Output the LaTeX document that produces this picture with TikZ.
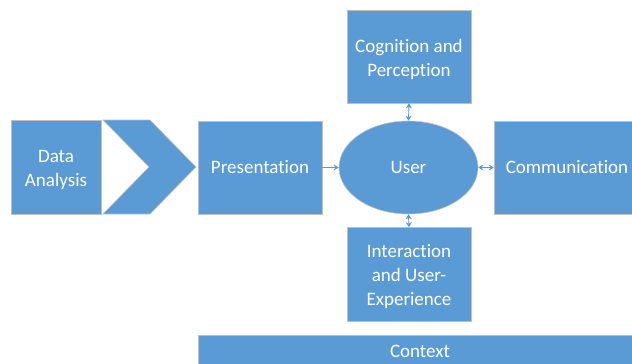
\documentclass[tikz,border=0pt]{standalone}
\usepackage{fontspec}
\setmainfont{Carlito}[Ligatures=NoCommon]
\usetikzlibrary{shapes.geometric,arrows.meta}
\definecolor{boxblue}{HTML}{5B9BD5}
\definecolor{boxedge}{HTML}{BFBFBF}
\tikzset{
  blockbox/.style={rectangle, fill=boxblue, draw=boxedge, line width=0.6pt,
    text=white, inner sep=0pt, align=center,
    font=\fontsize{19}{24}\selectfont},
  userball/.style={blockbox, ellipse},
  boxtext/.style={text=white, inner sep=0pt, align=center,
    font=\fontsize{19}{24}\selectfont},
  tip/.style={Stealth[length=5pt,width=6pt]},
  link/.style={draw=boxblue, line width=0.9pt, -{Stealth[length=5pt,width=6pt]}},
  duallink/.style={draw=boxblue, line width=0.9pt, {Stealth[length=5pt,width=6pt]}-{Stealth[length=5pt,width=6pt]}}
}
\begin{document}
\begin{tikzpicture}[x=1pt,y=-1pt]
\useasboundingbox (0,0) rectangle (632,364);

% left block and chevron
\node[blockbox, minimum width=90pt, minimum height=94pt] (data) at (56,167) {};
\node[boxtext] (datatext) at ([yshift=-2.5pt]data.center) {Data\\Analysis};
\filldraw[fill=boxblue, draw=boxedge, line width=0.6pt]
  (103,120) -- (150,120) -- (196,167) -- (150,214) -- (103,214) -- (149,167) -- cycle;

% central row
\node[blockbox, minimum width=124pt, minimum height=93pt] (pres) at (260,167.5) {Presentation};
\node[userball, minimum width=139pt, minimum height=93pt] (user) at (408.5,167.5) {User};
\node[blockbox, minimum width=146pt, minimum height=93pt] (comm) at (567,167.5) {Communication};

% above and below the user
\node[blockbox, minimum width=124pt, minimum height=93pt] (cog) at (409,56.5) {};
\node[boxtext] (cogtext) at ([yshift=-2.5pt]cog.center) {Cognition and\\Perception};
\node[blockbox, minimum width=124pt, minimum height=94pt] (inter) at (409,274.5) {};
\node[boxtext] (intertext) at ([yshift=-2pt]inter.center) {Interaction\\and User-\\Experience};

% context bar
\node[blockbox, minimum width=444pt, minimum height=33pt] (ctx) at (420,351.5) {Context};

% connectors
\draw[link] (pres.east) -- (user.west);
\draw[duallink] (user.east) -- (comm.west);
\draw[duallink] (user.north) -- (cog.south);
\draw[duallink] (user.south) -- (inter.north);
\end{tikzpicture}
\end{document}
